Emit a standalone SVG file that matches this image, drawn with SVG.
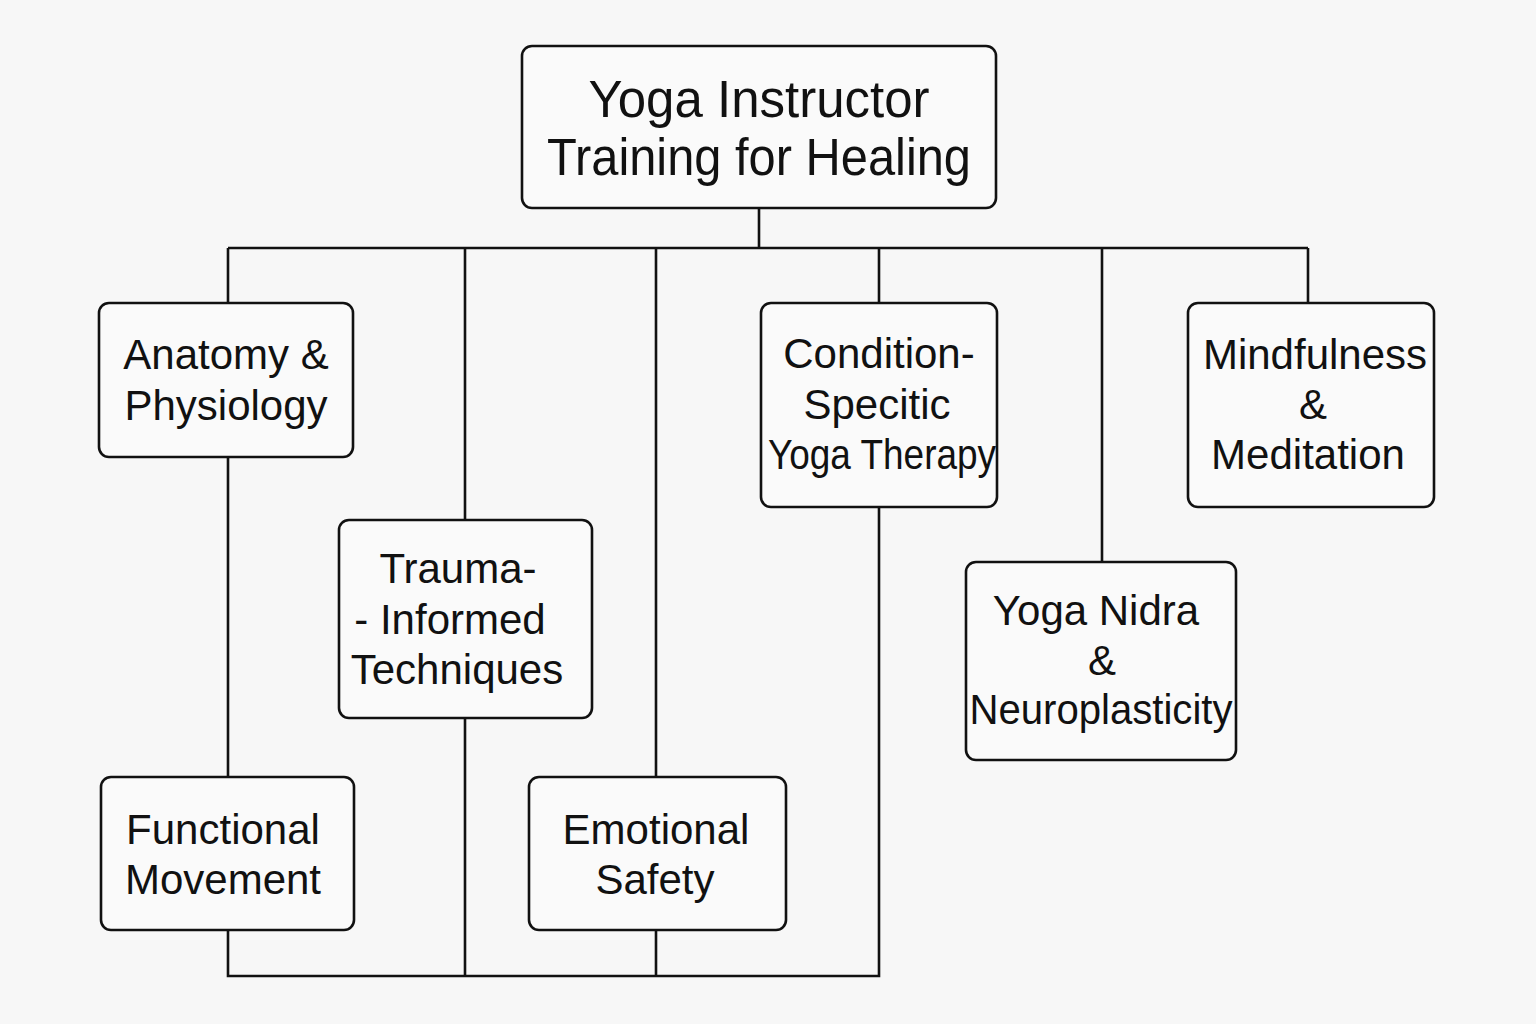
<svg xmlns="http://www.w3.org/2000/svg" width="1536" height="1024" viewBox="0 0 1536 1024">
<style>
.box{fill:#fafafa;stroke:#111;stroke-width:2.6}
.t{font-family:"Liberation Sans",Arial,sans-serif;font-size:42px;fill:#111;text-anchor:middle}
.tt{font-family:"Liberation Sans",Arial,sans-serif;font-size:51px;fill:#111;text-anchor:middle}
.ln{fill:none;stroke:#111;stroke-width:2.6}
</style>
<rect width="1536" height="1024" fill="#f7f7f7"/>
<g id="connectors">
<path class="ln" d="M759 208V248M228 248H1308M228 248V303M465 248V520M656 248V777M879 248V303M1102 248V562M1308 248V303"/>
<path class="ln" d="M228 457V777M228 930V976H879V507M465 718V976M656 930V976"/>
</g>
<g id="root">
<rect class="box" x="522" y="46" width="474" height="162" rx="10"/>
<text class="tt" x="759" y="117">Yoga Instructor</text>
<text class="tt" x="759" y="175" textLength="424" lengthAdjust="spacingAndGlyphs">Training for Healing</text>
</g>
<g id="anatomy">
<rect class="box" x="99" y="303" width="254" height="154" rx="10"/>
<text class="t" x="226" y="369">Anatomy &amp;</text>
<text class="t" x="226" y="420">Physiology</text>
</g>
<g id="functional">
<rect class="box" x="101" y="777" width="253" height="153" rx="10"/>
<text class="t" x="223" y="844">Functional</text>
<text class="t" x="223" y="894">Movement</text>
</g>
<g id="trauma">
<rect class="box" x="339" y="520" width="253" height="198" rx="10"/>
<text class="t" x="458" y="583">Trauma-</text>
<text class="t" x="450" y="634">- Informed</text>
<text class="t" x="457" y="684">Techniques</text>
</g>
<g id="emotional">
<rect class="box" x="529" y="777" width="257" height="153" rx="10"/>
<text class="t" x="656" y="844">Emotional</text>
<text class="t" x="655" y="894">Safety</text>
</g>
<g id="condition">
<rect class="box" x="761" y="303" width="236" height="204" rx="10"/>
<text class="t" x="879" y="368">Condition-</text>
<text class="t" x="877" y="419">Specitic</text>
<text class="t" x="882" y="469" textLength="228" lengthAdjust="spacingAndGlyphs">Yoga Therapy</text>
</g>
<g id="mindfulness">
<rect class="box" x="1188" y="303" width="246" height="204" rx="10"/>
<text class="t" x="1315" y="369">Mindfulness</text>
<text class="t" x="1313" y="419">&amp;</text>
<text class="t" x="1308" y="469">Meditation</text>
</g>
<g id="nidra">
<rect class="box" x="966" y="562" width="270" height="198" rx="10"/>
<text class="t" x="1096" y="625">Yoga Nidra</text>
<text class="t" x="1102" y="675">&amp;</text>
<text class="t" x="1101" y="724" textLength="263" lengthAdjust="spacingAndGlyphs">Neuroplasticity</text>
</g>
</svg>
